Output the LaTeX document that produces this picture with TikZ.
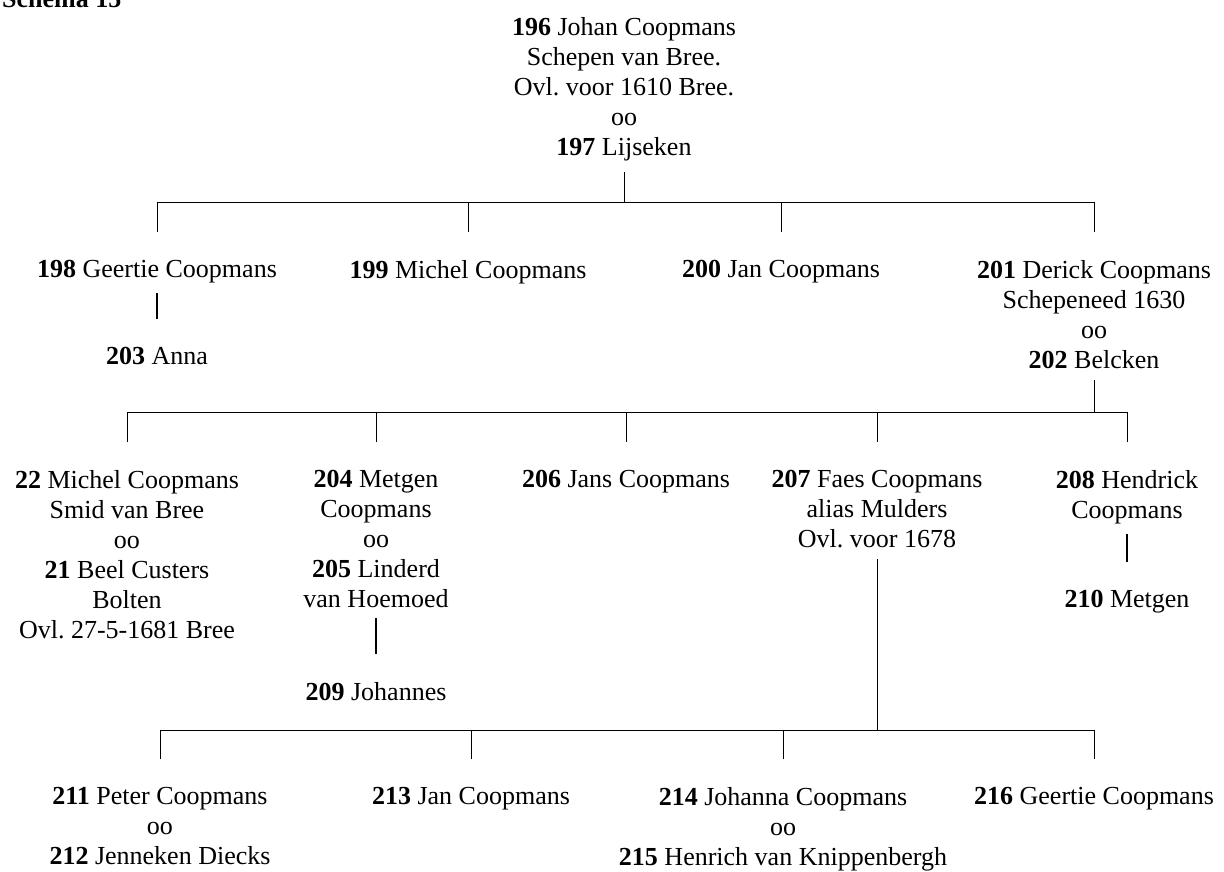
\documentclass[tikz,border=0pt]{standalone}
\usepackage{fontspec}
\setmainfont{Liberation Serif}
\usetikzlibrary{positioning}
\frenchspacing

\begin{document}
\begin{tikzpicture}[
      x=1pt, y=-1pt,
      person/.style   = {align=center, inner sep=0pt, anchor=north,
                         font=\fontsize{26}{30}\selectfont},
      stem/.style     = {line width=0.9pt, shorten <=11pt},
      barline/.style  = {line width=0.9pt},
      tickline/.style = {line width=0.9pt, shorten >=28pt},
      dropline/.style = {line width=1.4pt, shorten <=10pt, shorten >=28pt},
      node distance=64pt
    ]
    \useasboundingbox (0,0) rectangle (1224,871);

    % Nodes
    \node[anchor=base west, inner sep=0pt,
          font=\fontsize{26}{30}\selectfont\bfseries] (title) at (2,7) {Schema 15};

    \node[person] (n196) at (624,17) {\textbf{196} Johan Coopmans\\Schepen van Bree.\\Ovl. voor 1610 Bree.\\oo\\\textbf{197} Lijseken};

    \node[person] (n198) at (157,260) {\textbf{198} Geertie Coopmans};
    \node[person] (n199) at (468,260) {\textbf{199} Michel Coopmans};
    \node[person] (n200) at (781,260) {\textbf{200} Jan Coopmans};
    \node[person] (n201) at (1094,260) {\textbf{201} Derick Coopmans\\Schepeneed 1630\\oo\\\textbf{202} Belcken};
    \node[person, below=of n198] (n203) {\textbf{203} Anna};

    \node[person] (n22)  at (127,470) {\textbf{22} Michel Coopmans\\Smid van Bree\\oo\\\textbf{21} Beel Custers\\Bolten\\Ovl. 27-5-1681 Bree};
    \node[person] (n204) at (376,470) {\textbf{204} Metgen\\Coopmans\\oo\\\textbf{205} Linderd\\van Hoemoed};
    \node[person] (n206) at (626,470) {\textbf{206} Jans Coopmans};
    \node[person] (n207) at (877,470) {\textbf{207} Faes Coopmans\\alias Mulders\\Ovl. voor 1678};
    \node[person] (n208) at (1127,470) {\textbf{208} Hendrick\\Coopmans};
    \node[person, below=74pt of n204] (n209) {\textbf{209} Johannes};
    \node[person, below=66pt of n208] (n210) {\textbf{210} Metgen};

    \node[person] (n211) at (160,787) {\textbf{211} Peter Coopmans\\oo\\\textbf{212} Jenneken Diecks};
    \node[person] (n213) at (471,787) {\textbf{213} Jan Coopmans};
    \node[person] (n214) at (783,787) {\textbf{214} Johanna Coopmans\\oo\\\textbf{215} Henrich van Knippenbergh};
    \node[person] (n216) at (1094,787) {\textbf{216} Geertie Coopmans};

    \coordinate (j1) at (624,202);
    \coordinate (j2) at (1094,412);
    \coordinate (j3) at (877,730);

    % Lines
    \draw[stem]     (n196) -- (j1);
    \draw[barline]  (j1 -| n198) -- (j1 -| n201);
    \draw[tickline] (j1 -| n198) -- (n198);
    \draw[tickline] (j1 -| n199) -- (n199);
    \draw[tickline] (j1 -| n200) -- (n200);
    \draw[tickline] (j1 -| n201) -- (n201);
    \draw[dropline] (n198) -- (n203);

    \draw[stem]     (n201) -- (j2);
    \draw[barline]  (j2 -| n22) -- (j2 -| n208);
    \draw[tickline] (j2 -| n22)  -- (n22);
    \draw[tickline] (j2 -| n204) -- (n204);
    \draw[tickline] (j2 -| n206) -- (n206);
    \draw[tickline] (j2 -| n207) -- (n207);
    \draw[tickline] (j2 -| n208) -- (n208);
    \draw[dropline] (n204) -- (n209);
    \draw[dropline] (n208) -- (n210);

    \draw[stem]     (n207) -- (j3);
    \draw[barline]  (j3 -| n211) -- (j3 -| n216);
    \draw[tickline] (j3 -| n211) -- (n211);
    \draw[tickline] (j3 -| n213) -- (n213);
    \draw[tickline] (j3 -| n214) -- (n214);
    \draw[tickline] (j3 -| n216) -- (n216);
  \end{tikzpicture}
\end{document}
